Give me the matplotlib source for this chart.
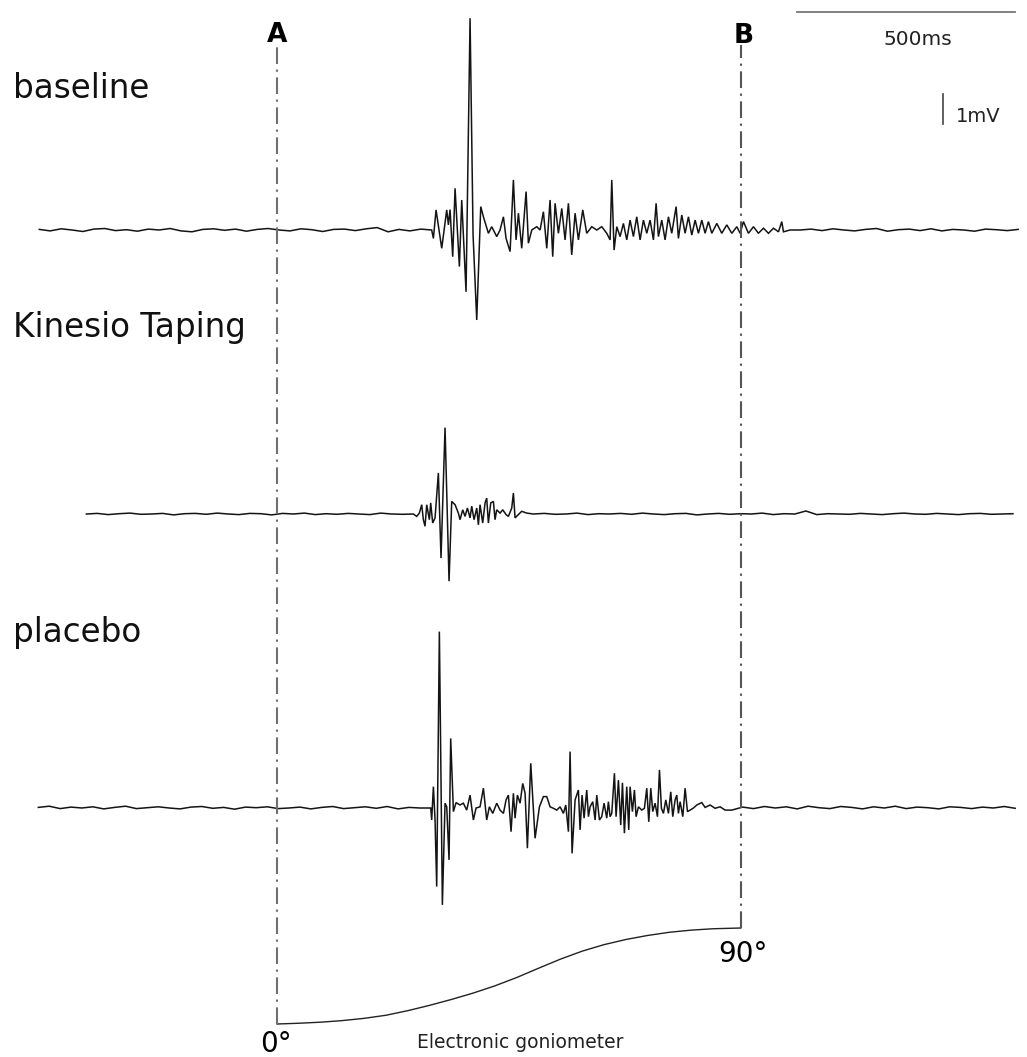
"""EMG traces (baseline / Kinesio Taping / placebo) between markers A and B,
with the electronic goniometer angle underneath."""
import numpy as np
import matplotlib
matplotlib.use("Agg")
import matplotlib.pyplot as plt

plt.rcParams["lines.scale_dashes"] = False

W, H = 1027, 1057
STEP = 25.0                      # ms between samples in the quiet stretches

# --- marker times (ms) ---
marker_A = 0.0
marker_B = 1064.0

# --- baseline condition ---
base_t = [354.8, 358.7, 364.8, 377.8, 389.3, 393.1, 396.9, 403.0, 408.4, 418.3,
          423.7, 433.6, 442.8, 449.7, 458.1, 467.3, 473.4, 484.9, 492.5, 504.0,
          511.6, 519.3, 525.4, 534.6, 542.2, 548.3, 553.7, 561.3, 571.3, 576.6,
          584.3, 595.7, 603.4, 611.0, 618.7, 626.3, 632.4, 637.8, 645.4, 653.1,
          660.7, 668.4, 676.0, 683.7, 691.3, 701.3, 710.4, 721.9, 733.4, 744.8,
          756.3, 764.0, 767.8, 773.1, 779.3, 786.9, 794.5, 802.2, 809.8, 817.5,
          825.1, 832.8, 840.4, 848.1, 855.7, 863.4, 869.5, 874.8, 882.5, 890.1,
          897.8, 905.4, 915.4, 920.7, 928.4, 936.0, 943.7, 951.3, 959.0, 966.6,
          974.3, 981.9, 989.5, 997.2, 1008.7, 1020.1, 1031.6, 1043.1, 1054.6, 1062.2,
          1069.8, 1081.3, 1092.8, 1104.2, 1115.7, 1127.2, 1138.7, 1150.2, 1157.8, 1161.6,
          1176.9, 1200.0]
base_v = [0.0, -0.28, 0.67, -0.61, 0.67, 0.17, 0.68, -0.89, 1.39, -1.22,
          1.0, -2.06, 7.06, -0.17, -3.0, 0.78, 0.44, -0.11, 0.11, -0.22,
          0.0, 0.44, -0.28, -0.72, 1.67, -0.33, 0.56, -0.61, 1.28, -0.44,
          0.0, 0.11, 0.0, 0.61, -0.61, 1.0, -0.89, 0.89, -0.11, 0.72,
          -0.33, 0.89, -0.83, 0.56, -0.33, 0.67, -0.11, 0.11, 0.0, 0.11,
          -0.11, -0.33, 1.67, -0.67, 0.11, -0.22, 0.22, -0.33, 0.33, -0.22,
          0.44, -0.33, 0.33, -0.11, 0.33, -0.33, 0.89, -0.22, 0.33, -0.33,
          0.44, -0.11, 0.78, -0.28, 0.5, -0.11, 0.44, -0.17, 0.33, -0.11,
          0.33, -0.11, 0.28, -0.11, 0.22, -0.11, 0.17, -0.11, 0.11, -0.11,
          0.28, -0.11, 0.11, -0.11, 0.06, -0.11, 0.06, -0.06, 0.28, -0.06,
          0.0, 0.0]
base_pre = [0.02, -0.03, 0.04, 0.0, -0.05, 0.03, 0.05, -0.02, 0.01, -0.04,
            0.03, 0.0, 0.05, -0.03, -0.06, 0.02, 0.04, -0.01, 0.03, -0.04,
            0.02, 0.05, 0.0, -0.03, 0.04, 0.01, -0.05, 0.02, 0.03, -0.02,
            0.04, 0.08, -0.06, 0.02, -0.03, 0.03]
base_post = [0.03, -0.02, 0.04, 0.0, -0.03, 0.02, 0.05, -0.04, 0.01, 0.03,
             -0.02, 0.04, -0.03, 0.02, 0.0, -0.04, 0.03, 0.01, -0.02, 0.02]

# --- Kinesio Taping condition ---
kt_t = [312.8, 320.4, 326.5, 331.9, 335.7, 339.5, 343.4, 349.5, 352.5, 357.1,
        362.5, 370.1, 376.2, 385.4, 394.6, 400.7, 408.4, 416.0, 419.8, 426.0,
        431.3, 436.7, 442.8, 446.6, 452.0, 458.1, 461.9, 465.7, 471.8, 477.2,
        481.0, 484.8, 490.2, 496.3, 500.1, 503.9, 511.6, 517.7, 525.4, 530.7,
        538.4, 542.2, 546.0, 553.6, 561.3, 572.8, 588.0]
kt_v = [0.0, -0.08, 0.03, 0.31, -0.19, -0.41, 0.31, -0.19, 0.37, -0.3,
        -0.13, 1.37, -1.47, 2.88, -2.24, 0.42, 0.31, 0.03, -0.19, 0.14,
        -0.08, 0.2, -0.13, 0.26, -0.19, 0.2, -0.36, 0.31, -0.3, 0.37,
        0.53, -0.3, 0.37, 0.42, -0.19, 0.14, 0.03, 0.14, -0.02, -0.08,
        0.2, 0.7, -0.13, -0.02, 0.09, 0.03, 0.0]
kt_pre = [0.0, 0.02, -0.02, 0.01, 0.03, -0.01, 0.0, 0.02, -0.03, 0.01,
          0.02, -0.01, 0.03, 0.0, -0.02, 0.02, 0.01, -0.03, 0.02, 0.0,
          0.03, -0.02, 0.01, -0.01, 0.02, 0.0, -0.02, 0.03, 0.0, -0.01]
kt_post = [0.02, -0.01, 0.0, 0.03, -0.02, 0.01, 0.0, 0.02, -0.01, 0.03,
           0.0, -0.02, 0.01, 0.02, -0.03, 0.0, 0.02, -0.01, 0.01, 0.0,
           0.03, -0.02, 0.01, 0.0, 0.1, -0.02, 0.01, 0.0, -0.01, 0.02,
           0.0, -0.02, 0.01, 0.03, 0.0, -0.01, 0.02, 0.0, -0.02, 0.01,
           0.02, -0.01, 0.0, 0.01]

# --- placebo condition ---
pl_t = [352.6, 354.8, 358.7, 362.5, 366.3, 372.4, 379.3, 385.4, 389.3, 394.6,
        398.4, 404.6, 410.7, 419.8, 427.5, 435.1, 442.8, 450.4, 456.6, 465.7,
        473.4, 481.0, 487.1, 494.8, 504.0, 511.6, 519.3, 525.4, 530.7, 536.8,
        542.2, 546.0, 551.4, 557.5, 563.6, 569.0, 574.3, 582.0, 591.9, 601.9,
        611.0, 618.7, 626.3, 634.0, 641.6, 649.3, 656.9, 662.3, 668.4, 672.2,
        676.8, 683.7, 691.3, 695.1, 699.7, 704.3, 710.4, 714.3, 718.1, 724.2,
        729.6, 733.4, 739.5, 744.8, 750.2, 756.3, 760.1, 764.0, 767.8, 773.9,
        777.7, 783.1, 788.4, 792.3, 796.8, 802.2, 806.8, 809.8, 815.2, 819.8,
        823.6, 829.0, 836.6, 842.7, 848.1, 852.7, 857.3, 861.8, 867.2, 872.6,
        877.2, 881.7, 886.3, 891.7, 897.8, 903.1, 907.7, 913.1, 916.9, 920.7,
        924.6, 930.7, 936.0, 941.4, 947.5, 955.2, 962.8, 974.3, 981.9, 993.4,
        1004.8, 1016.3, 1027.8, 1043.0]
pl_v = [0.0, -0.4, 0.71, -0.4, -2.62, 5.88, -3.23, 0.16, 0.04, -1.73,
        2.32, -0.12, 0.18, 0.1, 0.16, -0.07, 0.43, -0.4, 0.0, 0.04,
        0.66, -0.4, 0.04, -0.18, 0.16, -0.07, -0.18, 0.27, 0.43, -0.79,
        0.49, -0.34, 0.43, 0.16, 0.82, 0.49, -1.34, 1.49, -1.01, 0.04,
        0.38, 0.38, 0.04, -0.01, -0.07, 0.04, -0.18, 0.1, -0.79, 1.88,
        -1.51, 0.27, 0.6, -0.73, 0.43, -0.34, 0.6, -0.29, 0.04, 0.21,
        -0.4, 0.43, -0.4, -0.29, 0.16, -0.34, 0.21, -0.29, -0.18, 1.16,
        -0.29, 0.93, -0.57, 0.84, -0.84, 0.71, -0.73, 0.71, -0.12, 0.6,
        -0.29, 0.04, -0.07, -0.01, 0.66, -0.46, 0.66, -0.12, 0.16, -0.29,
        1.27, -0.01, -0.18, 0.27, -0.18, 0.54, -0.29, 0.27, 0.43, -0.18,
        0.21, -0.29, 0.66, -0.12, -0.07, 0.0, 0.1, 0.18, 0.02, 0.1,
        -0.01, 0.04, -0.07, -0.07]
pl_pre = [0.02, 0.06, -0.02, 0.03, 0.0, 0.04, -0.03, 0.02, 0.06, -0.02,
          0.01, 0.04, 0.0, -0.03, 0.03, 0.05, -0.01, 0.02, -0.04, 0.03,
          0.01, 0.04, -0.02, 0.0, 0.03, -0.03, 0.02, 0.05, -0.02, 0.01,
          0.04, -0.01, 0.05, -0.03, 0.02, 0.0]
pl_post = [0.03, -0.02, 0.05, 0.0, 0.04, -0.03, 0.06, 0.01, -0.02, 0.05,
           0.02, -0.03, 0.04, 0.0, 0.06, -0.02, 0.03, 0.01, -0.03, 0.04,
           0.02, -0.02, 0.03, 0.0, 0.05, -0.01]

# --- electronic goniometer (deg) ---
gonio_t = [0, 50, 100, 150, 200, 250, 300, 350, 400, 450, 500, 550, 600,
           650, 700, 750, 800, 850, 900, 950, 1000, 1064]
gonio_deg = [0.0, 0.7, 1.7, 3.2, 5.3, 8.2, 12.5, 17.5, 23.0, 29.0, 35.8,
             43.6, 52.3, 60.8, 68.3, 74.4, 79.2, 83.0, 86.0, 88.0, 89.3, 90.0]

labels = ["baseline", "Kinesio Taping", "placebo"]


def assemble(pre, t, v, post):
    t = np.asarray(t); v = np.asarray(v)
    tp = t[0] - STEP * np.arange(len(pre), 0, -1)
    tq = t[-1] + STEP * np.arange(1, len(post) + 1)
    return (np.concatenate([tp, t, tq]),
            np.concatenate([pre, v, post]))


# pixel layout: 30 px per mV, 0.436 px per ms, marker A at x=277
PX_MV, PX_MS, X0 = 30.0, 0.436, 277.0
fig = plt.figure(figsize=(W / 100, H / 100), dpi=100)
ax = fig.add_axes([0, 0, 1, 1])
ax.set_xlim(-X0 / PX_MS, (W - X0) / PX_MS)
ax.set_ylim(0, H / PX_MV)
ax.axis("off")

offsets = [(H - 230) / PX_MV, (H - 514) / PX_MV, (H - 808) / PX_MV]
traces = [assemble(base_pre, base_t, base_v, base_post),
          assemble(kt_pre, kt_t, kt_v, kt_post),
          assemble(pl_pre, pl_t, pl_v, pl_post)]
for (tt, vv), off in zip(traces, offsets):
    ax.plot(tt, vv + off, color="#141414", lw=1.1, solid_joinstyle="miter")

for lab, yb in zip(labels, [98, 337, 642]):
    fig.text(13 / W, 1 - yb / H, lab, fontsize=23.5, color="#111",
             va="baseline", ha="left")

# scale bars
ybar = (H - 11.7) / PX_MV
ax.plot([1193, 1193 + 500], [ybar, ybar], color="#777", lw=1.3)
fig.text(918 / W, 1 - 45 / H, "500ms", fontsize=14.5, ha="center",
         va="baseline", color="#222")
y1 = (H - 124) / PX_MV
ax.plot([1527, 1527], [y1, y1 + 1.0], color="#444", lw=1.2)
fig.text(956 / W, 1 - 122 / H, "1mV", fontsize=14, ha="left",
         va="baseline", color="#222")

# goniometer axes: 0 deg at y=1024 px, 90 deg at y=928 px
DEG_PX = 90 / 96.0
axg = fig.add_axes([0, 0, 1, 1], facecolor="none")
axg.set_xlim(ax.get_xlim())
axg.set_ylim(-(H - 1024) * DEG_PX, 1024 * DEG_PX)
axg.axis("off")
axg.plot(gonio_t, gonio_deg, color="#222", lw=1.0)

dash = (0, (12, 4, 1.6, 4))
axg.plot([marker_A, marker_A], [0, (1024 - 42) * DEG_PX], color="#707070",
         lw=1.5, ls=dash)
axg.plot([marker_B, marker_B], [90, (1024 - 45) * DEG_PX], color="#555",
         lw=1.5, ls=dash)

fig.text(277 / W, 1 - 42 / H, "A", fontsize=19, fontweight="bold",
         ha="center", va="baseline")
fig.text(744 / W, 1 - 43 / H, "B", fontsize=19, fontweight="bold",
         ha="center", va="baseline")
fig.text(276 / W, 1 - 1052 / H, "0°", fontsize=20, ha="center", va="baseline")
fig.text(743 / W, 1 - 962 / H, "90°", fontsize=20, ha="center", va="baseline")
fig.text(520 / W, 1 - 1048 / H, "Electronic goniometer", fontsize=13.5,
         ha="center", va="baseline", color="#222")

fig.savefig("out.png", dpi=100)
